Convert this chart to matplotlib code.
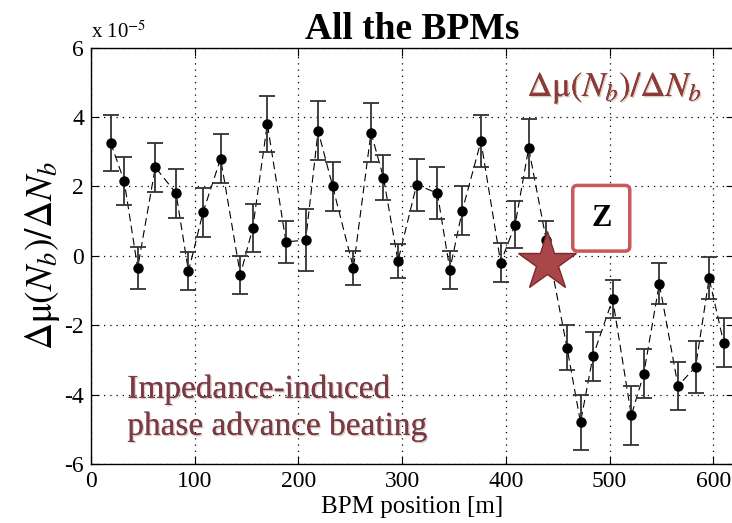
import numpy as np
import matplotlib
matplotlib.use("Agg")
import matplotlib.pyplot as plt
import matplotlib.patheffects as pe

plt.rcParams['font.family'] = ['Liberation Serif', 'DejaVu Serif']
plt.rcParams['mathtext.fontset'] = 'stix'
plt.rcParams['axes.unicode_minus'] = False

# BPM positions [m] and phase advance slope (units of 1e-5)
bpm_pos = [19, 32, 45, 62, 82, 94, 108, 125, 144, 156, 170, 188, 207, 219, 233,
           253, 270, 282, 296, 314, 334, 346, 358, 376, 395, 409, 422, 439,
           459, 472, 484, 503, 521, 533, 548, 566, 583, 596, 610]
dmu = [3.25, 2.15, -0.35, 2.55, 1.8, -0.45, 1.25, 2.8, -0.55, 0.8, 3.8, 0.4, 0.45,
       3.6, 2.0, -0.35, 3.55, 2.25, -0.15, 2.05, 1.8, -0.4, 1.3, 3.3, -0.2, 0.9,
       3.1, 0.45, -2.65, -4.8, -2.9, -1.25, -4.6, -3.4, -0.8, -3.75, -3.2, -0.65,
       -2.5]
dmu_err = [0.8, 0.7, 0.6, 0.7, 0.7, 0.55, 0.7, 0.7, 0.55, 0.7, 0.8, 0.6, 0.9,
           0.85, 0.7, 0.5, 0.85, 0.65, 0.5, 0.75, 0.75, 0.55, 0.7, 0.75, 0.56, 0.68,
           0.85, 0.55, 0.65, 0.8, 0.7, 0.55, 0.85, 0.7, 0.6, 0.7, 0.75, 0.6, 0.7]
star_pos = [440]
star_val = [-0.17]

fig = plt.figure(figsize=(7.32, 5.23), dpi=100)
ax = fig.add_axes([91 / 732, 1 - 464 / 523, 643 / 732, 416.5 / 523])

ax.plot(bpm_pos, dmu, linestyle=(0, (7, 4)), color='black', linewidth=0.8, zorder=2)
ax.errorbar(bpm_pos, dmu, yerr=dmu_err, fmt='o', color='black', markersize=6.5,
            ecolor='#333333', elinewidth=1.3, capsize=6, capthick=1.3, zorder=3)

ax.plot(star_pos, star_val, marker='*', markersize=44, color='#a8464a',
        markeredgecolor='#7a2a2c', markeredgewidth=1.0, linestyle='none', zorder=4)

ax.set_xlim(0, 620)
ax.set_ylim(-6, 6)
ax.set_xticks([0, 100, 200, 300, 400, 500, 600])
ax.set_yticks([-6, -4, -2, 0, 2, 4, 6])
ax.grid(True, linestyle=(0, (1, 4)), color='black', linewidth=0.9)
ax.tick_params(direction='in', top=True, right=True, labelsize=17, length=6, pad=5)
for s in ax.spines.values():
    s.set_linewidth(1.0)

ax.set_xlabel('BPM position [m]', fontsize=18, labelpad=3)
ax.set_ylabel(r'$\Delta\mathrm{\mu}(N_b)/\Delta N_b$', fontsize=27, labelpad=2)
ax.set_title('All the BPMs', fontsize=27, fontweight='bold', pad=6)
fig.text(91 / 732, 1 - 32 / 523, r'x 10$^{-5}$', fontsize=15, va='center', ha='left')

shadow = [pe.withSimplePatchShadow(offset=(1, -1), shadow_rgbFace='#c8b090', alpha=0.6), pe.Normal()]
ax.text(505, 4.83, r'$\Delta\mathrm{\mu}(N_b)/\Delta N_b$',
        fontsize=25, color='#8a3c38', ha='center', va='center', path_effects=shadow)
ax.text(35, -4.38, 'Impedance-induced\nphase advance beating', fontsize=24,
        color='#7a3a48', ha='left', va='center', linespacing=1.25, path_effects=shadow)
ax.text(492, 1.08, 'Z', fontsize=22, fontweight='bold', color='black', ha='center', va='center',
        bbox=dict(boxstyle='round,pad=0.6,rounding_size=0.15', facecolor='white',
                  edgecolor='#c8585a', linewidth=2.5))

fig.savefig('out.png', dpi=100)
